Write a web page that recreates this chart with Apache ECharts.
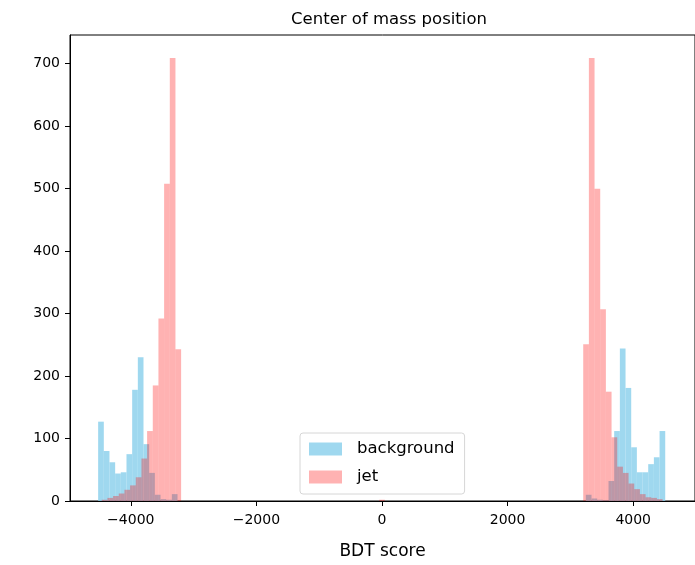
<!DOCTYPE html>
<html lang="en">
<head>
  <meta charset="UTF-8">
  <title>Center of mass position</title>
  <script src="https://cdn.jsdelivr.net/npm/echarts@6/dist/echarts.min.js"></script>
  <style>
    html, body { margin: 0; padding: 0; background: #fff; }
    #chart { width: 695px; height: 565px; }
  </style>
</head>
<body>
  <div id="chart"></div>
  <script>
    // histogram bins: each cluster is a start edge plus counts per bin
    const binWidth = 90.3;

    const bgLeftStart = -4520;
    const bgLeft = [127, 80, 62, 44, 46, 75, 178, 230, 91, 45, 10, 3, 2, 11];
    const bgRightStart = 3245.8;
    const bgRight = [10, 4, 2, 1, 32, 112, 244, 181, 86, 46, 46, 59, 70, 112];

    const jetLeftStart = -4462.7;
    const jetLeft = [2, 5, 8, 12, 18, 25, 38, 68, 112, 185, 292, 508, 709, 243];
    const jetMidStart = -45;
    const jetMid = [2];
    const jetRightStart = 3204;
    const jetRight = [251, 709, 500, 307, 175, 102, 55, 45, 28, 19, 11, 6, 5, 3];

    const xTicks = [-4000, -2000, 0, 2000, 4000];
    const yTicks = [0, 100, 200, 300, 400, 500, 600, 700];

    function toBins(start, counts) {
      return counts.map((c, i) => [start + i * binWidth, start + (i + 1) * binWidth, c]);
    }

    const bgData = toBins(bgLeftStart, bgLeft).concat(toBins(bgRightStart, bgRight));
    const jetData = toBins(jetLeftStart, jetLeft)
      .concat(toBins(jetMidStart, jetMid))
      .concat(toBins(jetRightStart, jetRight));

    function renderBar(params, api) {
      const p0 = api.coord([api.value(0), api.value(2)]);
      const p1 = api.coord([api.value(1), 0]);
      return {
        type: 'rect',
        shape: { x: p0[0], y: p0[1], width: p1[0] - p0[0], height: p1[1] - p0[1] },
        style: api.style()
      };
    }

    const font = 'DejaVu Sans';
    const chart = echarts.init(document.getElementById('chart'));

    chart.setOption({
      animation: false,
      title: {
        text: 'Center of mass position',
        left: 384,
        top: 6,
        textAlign: 'center',
        textStyle: { fontFamily: font, fontSize: 16.5, fontWeight: 'normal', color: '#000' }
      },
      legend: {
        orient: 'vertical',
        left: 300,
        top: 433,
        data: ['background', 'jet'],
        icon: 'rect',
        itemWidth: 33,
        itemHeight: 13,
        itemGap: 8,
        padding: [6, 10, 7, 9],
        backgroundColor: '#fff',
        borderColor: '#d6d6d6',
        borderWidth: 1,
        borderRadius: 3,
        textStyle: { fontFamily: font, fontSize: 16.5, color: '#000', padding: [0, 0, 0, 10], lineHeight: 20 }
      },
      grid: {
        left: 70, top: 35, width: 628, height: 467,
        show: true, borderColor: '#000', borderWidth: 1
      },
      xAxis: {
        type: 'value',
        min: -4968,
        max: 4984,
        name: 'BDT score',
        nameLocation: 'middle',
        nameGap: 42,
        nameTextStyle: { fontFamily: font, fontSize: 17, color: '#000' },
        splitLine: { show: false },
        axisLine: { lineStyle: { color: '#000', width: 1 } },
        axisTick: { customValues: xTicks, length: 5, lineStyle: { color: '#000' } },
        axisLabel: {
          customValues: xTicks,
          margin: 12,
          fontFamily: font, fontSize: 14, color: '#000',
          formatter: v => (v < 0 ? '\u2212' + Math.abs(v) : String(v))
        }
      },
      yAxis: {
        type: 'value',
        min: 0,
        max: 746,
        splitLine: { show: false },
        axisLine: { show: true, onZero: false, lineStyle: { color: '#000', width: 1 } },
        axisTick: { show: true, customValues: yTicks, length: 5, lineStyle: { color: '#000' } },
        axisLabel: { customValues: yTicks, margin: 10, fontFamily: font, fontSize: 14, color: '#000' }
      },
      series: [
        {
          name: 'background',
          type: 'custom',
          renderItem: renderBar,
          encode: { x: [0, 1], y: 2 },
          itemStyle: { color: 'rgba(135, 206, 235, 0.8)' },
          data: bgData
        },
        {
          name: 'jet',
          type: 'custom',
          renderItem: renderBar,
          encode: { x: [0, 1], y: 2 },
          itemStyle: { color: 'rgba(255, 0, 0, 0.3)' },
          data: jetData
        }
      ]
    });
  </script>
</body>
</html>
